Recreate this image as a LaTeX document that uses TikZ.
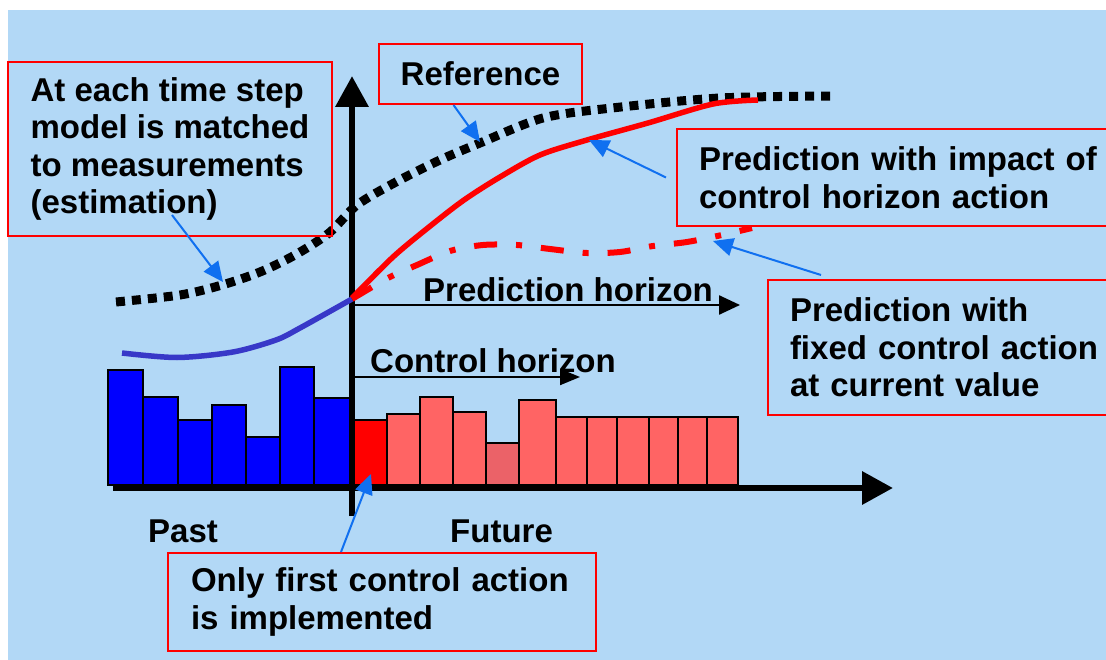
\documentclass[tikz,border=0pt]{standalone}
\usepackage{fontspec}
\setmainfont{Liberation Sans}
\usetikzlibrary{arrows.meta}
\definecolor{skyblue}{RGB}{178,216,246}
\definecolor{pointblue}{RGB}{16,112,240}
\definecolor{pastblue}{RGB}{56,56,200}
\definecolor{futurered}{RGB}{255,100,100}
\definecolor{duskred}{RGB}{235,98,104}
\newcommand{\bigbold}{\bfseries\fontsize{33}{37.5}\selectfont}

\begin{document}
\begin{tikzpicture}[x=1pt,y=-1pt]
            \tikzstyle{callout}=[rectangle, draw=red, line width=2pt, align=left, inner xsep=22pt, inner ysep=0pt, font=\bigbold]
            \tikzstyle{axistext}=[inner sep=0pt, anchor=base west, font=\bigbold]
            \tikzstyle{pointer}=[draw=pointblue, line width=2pt, -{Triangle[length=20pt,width=18pt]}]
            \tikzstyle{axis}=[line width=6.5pt, -{Triangle[length=31pt,width=32pt]}]
            \tikzstyle{horizon}=[line width=2.5pt, -{Triangle[length=21pt,width=19pt]}]
            \tikzstyle{pastbar}=[draw=black, line width=2.5pt, fill=blue]
            \tikzstyle{futurebar}=[draw=black, line width=2.5pt, fill=futurered]
            \useasboundingbox (0,0) rectangle (1106,660);
            \fill[skyblue] (8,10) rectangle (1106,660);
            % bars
            \foreach \xa/\xb/\top in {108/143/370, 143/178/397, 178/212/420, 212/246/405, 246/280/437, 280/314/367, 314/350/398}
              \draw[pastbar] (\xa,485) rectangle (\xb,\top);
            \draw[futurebar, fill=red] (354,485) rectangle (387,420);
            \foreach \xa/\xb/\top in {387/420/414, 420/453/397, 453/486/412, 519/556/400, 556/587/417, 587/617/417, 617/649/417, 649/678/417, 678/707/417, 707/738/417}
              \draw[futurebar] (\xa,485) rectangle (\xb,\top);
            \draw[futurebar, fill=duskred] (486,485) rectangle (519,443);
            % axes
            {\coordinate (ybot) at (352,516);
            \coordinate (ytop) at (352,76);
            \coordinate (xleft) at (113,488);
            \coordinate (xright) at (893,488);
            \coordinate (phstart) at (352,305);
            \coordinate (phend) at (740,305);
            \coordinate (chstart) at (352,377);
            \coordinate (chend) at (580,377);}
            \draw[axis] (ybot) -- (ytop);
            \draw[axis] (xleft) -- (xright);
            \draw[horizon] (phstart) -- (phend);
            \draw[horizon, line width=2pt, -{Triangle[length=20pt,width=16pt]}] (chstart) -- (chend);
            % curves
            \draw[line width=9pt, dash pattern=on 9pt off 7pt] plot[smooth] coordinates {(116,302) (180,295) (222,285) (260,272) (295,255) (329,233) (357,205) (396,182) (440,160) (480,143) (543,118) (612,108) (720,98) (836,96)};
            \draw[pastblue, line width=5.5pt] plot[smooth] coordinates {(122,353) (177,357.5) (233,352) (276,340) (300,328) (352,299)};
            \draw[red, line width=5.5pt] plot[smooth] coordinates {(352,298) (393,257) (429,227) (464,200) (500,177) (540,155) (587,140) (648,123) (713,104) (758,100)};
            \draw[red, line width=6pt, dash pattern=on 23pt off 19pt on 6pt off 19pt] plot[smooth] coordinates {(352,299) (388,278) (417,265) (450,251) (483,245) (517,245) (550,249) (587,253) (620,252) (653,246) (687,242) (722,235) (752,228)};
            % texts
            {\node[axistext] (predhor) at (423,302){Prediction horizon};
            \node[axistext] (ctrlhor) at (370,373){Control horizon};
            \node[axistext] (past) at (148,542){Past};
            \node[axistext] (future) at (450,542){Future};}
            {\node[callout, minimum width=324pt, minimum height=174pt, inner xsep=0pt] (estbox) at (170,149){At each time step\\model is matched\\to measurements\\(estimation)};
            \node[callout, minimum width=203pt, minimum height=60pt, align=center, inner xsep=0pt] (refbox) at (480.5,74){Reference};
            \node[callout, anchor=west, minimum width=450pt, minimum height=97pt, text width=406pt] (impactbox) at (676,177.5){Prediction with impact of\\control horizon action};
            \node[callout, anchor=west, minimum width=360pt, minimum height=135pt, text width=316pt] (fixedbox) at (767,347.5){Prediction with\\fixed control action\\at current value};
            \node[callout, minimum width=428pt, minimum height=98pt, text width=382pt, inner xsep=23pt] (implbox) at (382,602){Only first control action\\is implemented};}
            % pointers
            {\coordinate (esttip) at (223,282);
            \coordinate (reftip) at (480,142);
            \coordinate (impacttip) at (589,140);
            \coordinate (fixedtip) at (713,241);
            \coordinate (impltip) at (371,474);}
            \path ([shift={(2,66)}]estbox.center) edge [pointer] (esttip);
            \path ([xshift=-27pt]refbox.south) edge [pointer] (reftip);
            \path ([xshift=-10pt]impactbox.west) edge [pointer] (impacttip);
            \path ([shift={(54,-4)}]fixedbox.north west) edge [pointer] (fixedtip);
            \path ([xshift=-41pt]implbox.north) edge [pointer] (impltip);
        \end{tikzpicture}
\end{document}
